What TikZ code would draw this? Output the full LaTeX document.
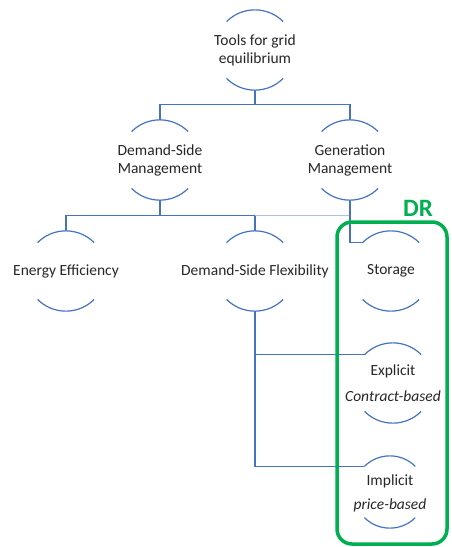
\documentclass[tikz,border=0pt]{standalone}
\usepackage{fontspec}
\setmainfont{Carlito}
\usepackage{xcolor}
\usetikzlibrary{positioning, calc}
\definecolor{linkblue}{HTML}{4472C4}
\definecolor{drgreen}{HTML}{00B050}
\tikzset{
    x=1pt, y=1pt,
    bud/.style={circle, minimum size=80pt, inner sep=0pt}, % invisible circle, arcs drawn later
    budline/.style={linkblue, line width=1.2pt},
    lbl/.style={font=\fontsize{15.5}{18}\selectfont, text=black!85, align=center},
    link/.style={linkblue, line width=1.2pt},
    faint/.style={linkblue!45, line width=1pt},
    drbox/.style={draw=drgreen, line width=3.5pt, rounded corners=15pt},
    drlabel/.style={font=\fontsize{25}{25}\selectfont\bfseries, text=drgreen, inner sep=0pt},
}

\begin{document}
\begin{tikzpicture}[on grid]
    \useasboundingbox (0,0) rectangle (451,-547);

    % Nodes
    \node[bud] (top) at (255,-50) {};
    \node[bud] (dsm) [below left=110pt and 95pt of top] {};
    \node[bud] (gm)  [right=190pt of dsm] {};
    \node[bud] (ee)  [below left=111pt and 94pt of dsm] {};
    \node[bud] (dsf) [right=189pt of ee] {};
    \node[bud] (sto) [right=136pt of dsf] {};
    \node[bud] (exp) at (393,-383) {};
    \node[bud, minimum size=72pt] (imp) at (390,-492) {};

    % Arcs above and below each node
    \foreach \n/\r in {top/40, dsm/40, gm/40, ee/40, dsf/40, sto/40, exp/40, imp/36} {
        \draw[budline] (\n.135) arc[start angle=135, end angle=45, radius=\r];
        \draw[budline] (\n.225) arc[start angle=225, end angle=315, radius=\r];
    }

    % Labels
    \node[lbl] at (top) {Tools for grid\\equilibrium};
    \node[lbl] at (dsm) {Demand-Side\\Management};
    \node[lbl] at (gm)  {Generation\\Management};
    \node[lbl] at (ee)  {Energy Efficiency};
    \node[lbl] at (dsf) {Demand-Side Flexibility};
    \node[lbl] at (sto) {Storage};
    \node[lbl] at (exp) {Explicit\\[8pt]\textit{Contract-based}};
    \node[lbl] at ($(imp)+(0,-1)$) {Implicit\\[6pt]\textit{price-based}};

    % Connectors
    \coordinate (topbar) at ($(top.south)+(0,-14)$);
    \coordinate (dsmbar) at ($(dsm.south)+(0,-15)$);
    \draw[link] (top.south) -- (topbar) -| (dsm.north);
    \draw[link] (topbar) -| (gm.north);
    \draw[link] (dsm.south) -- (dsmbar) -| (ee.north);
    \draw[link] (dsmbar) -| (dsf.north);
    \draw[faint] (dsf |- dsmbar) -- (gm |- dsmbar);
    \draw[link] (gm.south) |- (sto.135);
    \draw[link] (dsf.south) |- (exp.135);
    \draw[link] (dsf.south) |- (imp.135);

    % DR group
    \node[drbox, minimum width=110pt, minimum height=322pt] (dr) at (392,-383) {};
    \node[drlabel] (drtag) at (418,-208) {DR};
\end{tikzpicture}
\end{document}
